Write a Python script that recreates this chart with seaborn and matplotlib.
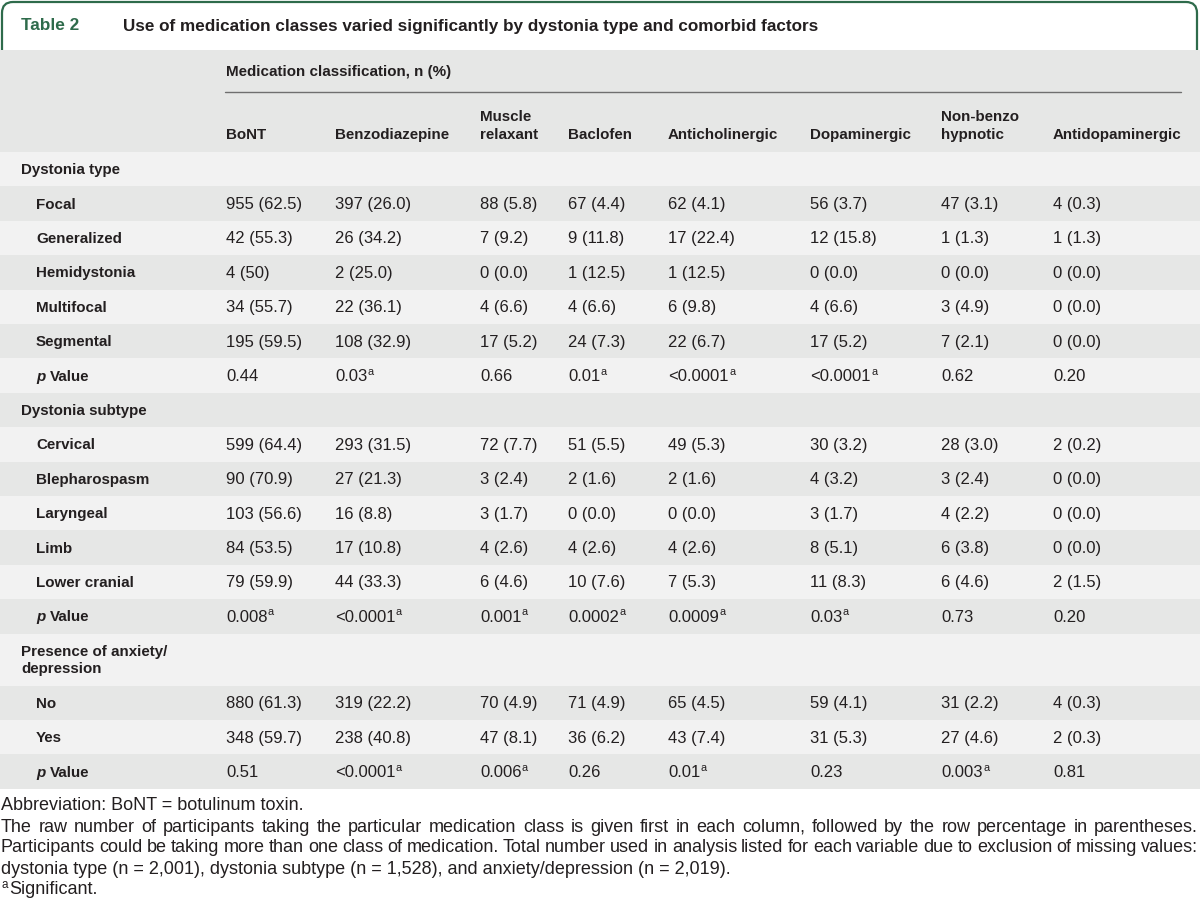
import matplotlib
matplotlib.use("Agg")
import matplotlib.pyplot as plt
import seaborn as sns
from matplotlib.patches import FancyBboxPatch

# =========================
# DATA
# =========================
table_label = "Table 2"
table_title = "Use of medication classes varied significantly by dystonia type and comorbid factors"
spanner = "Medication classification, n (%)"

medication_classes = ["BoNT", "Benzodiazepine", "Muscle\nrelaxant", "Baclofen",
                      "Anticholinergic", "Dopaminergic", "Non-benzo\nhypnotic",
                      "Antidopaminergic"]

type_labels = ["Focal", "Generalized", "Hemidystonia", "Multifocal", "Segmental"]
type_values = [
    ["955 (62.5)", "397 (26.0)", "88 (5.8)", "67 (4.4)", "62 (4.1)", "56 (3.7)", "47 (3.1)", "4 (0.3)"],
    ["42 (55.3)", "26 (34.2)", "7 (9.2)", "9 (11.8)", "17 (22.4)", "12 (15.8)", "1 (1.3)", "1 (1.3)"],
    ["4 (50)", "2 (25.0)", "0 (0.0)", "1 (12.5)", "1 (12.5)", "0 (0.0)", "0 (0.0)", "0 (0.0)"],
    ["34 (55.7)", "22 (36.1)", "4 (6.6)", "4 (6.6)", "6 (9.8)", "4 (6.6)", "3 (4.9)", "0 (0.0)"],
    ["195 (59.5)", "108 (32.9)", "17 (5.2)", "24 (7.3)", "22 (6.7)", "17 (5.2)", "7 (2.1)", "0 (0.0)"],
]
type_p = ["0.44", "0.03", "0.66", "0.01", "<0.0001", "<0.0001", "0.62", "0.20"]
type_sig = [0, 1, 0, 1, 1, 1, 0, 0]

subtype_labels = ["Cervical", "Blepharospasm", "Laryngeal", "Limb", "Lower cranial"]
subtype_values = [
    ["599 (64.4)", "293 (31.5)", "72 (7.7)", "51 (5.5)", "49 (5.3)", "30 (3.2)", "28 (3.0)", "2 (0.2)"],
    ["90 (70.9)", "27 (21.3)", "3 (2.4)", "2 (1.6)", "2 (1.6)", "4 (3.2)", "3 (2.4)", "0 (0.0)"],
    ["103 (56.6)", "16 (8.8)", "3 (1.7)", "0 (0.0)", "0 (0.0)", "3 (1.7)", "4 (2.2)", "0 (0.0)"],
    ["84 (53.5)", "17 (10.8)", "4 (2.6)", "4 (2.6)", "4 (2.6)", "8 (5.1)", "6 (3.8)", "0 (0.0)"],
    ["79 (59.9)", "44 (33.3)", "6 (4.6)", "10 (7.6)", "7 (5.3)", "11 (8.3)", "6 (4.6)", "2 (1.5)"],
]
subtype_p = ["0.008", "<0.0001", "0.001", "0.0002", "0.0009", "0.03", "0.73", "0.20"]
subtype_sig = [1, 1, 1, 1, 1, 1, 0, 0]

anxiety_labels = ["No", "Yes"]
anxiety_values = [
    ["880 (61.3)", "319 (22.2)", "70 (4.9)", "71 (4.9)", "65 (4.5)", "59 (4.1)", "31 (2.2)", "4 (0.3)"],
    ["348 (59.7)", "238 (40.8)", "47 (8.1)", "36 (6.2)", "43 (7.4)", "31 (5.3)", "27 (4.6)", "2 (0.3)"],
]
anxiety_p = ["0.51", "<0.0001", "0.006", "0.26", "0.01", "0.23", "0.003", "0.81"]
anxiety_sig = [0, 1, 1, 0, 1, 0, 1, 0]

sections = [
    ("Dystonia type", type_labels, type_values, type_p, type_sig),
    ("Dystonia subtype", subtype_labels, subtype_values, subtype_p, subtype_sig),
    ("Presence of anxiety/\ndepression", anxiety_labels, anxiety_values, anxiety_p, anxiety_sig),
]

footnotes = [
    ("Abbreviation: BoNT = botulinum toxin.", False),
    ("The raw number of participants taking the particular medication class is given first in each column, "
     "followed by the row percentage in parentheses.", True),
    ("Participants could be taking more than one class of medication. Total number used in analysis listed "
     "for each variable due to exclusion of missing values:", True),
    ("dystonia type (n = 2,001), dystonia subtype (n = 1,528), and anxiety/depression (n = 2,019).", False),
]

# =========================
# STYLE
# =========================
sns.set_theme(style="white")
plt.rcParams['font.family'] = ['Liberation Sans', 'DejaVu Sans']

GREEN = "#2e6b4b"
INK = "#231f20"
BAND_DARK = "#e6e7e6"
BAND_LIGHT = "#f2f2f2"
FS_LAB = 10.9     # bold labels
FS_VAL = 12.0     # cell values
FS_NOTE = 13.0

fig = plt.figure(figsize=(12, 9.16), dpi=100)
ax = fig.add_axes([0, 0, 1, 1])
ax.set_xlim(0, 1200)
ax.set_ylim(916, 0)
ax.axis("off")
renderer = fig.canvas.get_renderer()


def text_width(t):
    return t.get_window_extent(renderer).width


def draw_p_label(x, y):
    t = ax.text(x, y, "p", fontsize=FS_LAB, fontweight="bold", fontstyle="italic",
                color=INK, va="center", ha="left")
    ax.text(x + text_width(t) + FS_LAB * 100 / 72 * 0.3, y, "Value", fontsize=FS_LAB,
            fontweight="bold", color=INK, va="center", ha="left")


def draw_value(x, y, s, sig=False):
    t = ax.text(x, y, s, fontsize=FS_VAL, color=INK, va="center", ha="left")
    if sig:
        ax.text(x + text_width(t) + 0.5, y - 5, "a", fontsize=7.8, color=INK,
                va="center", ha="left")


# =========================
# TITLE BAND
# =========================
frame = FancyBboxPatch((2, 2), 1195, 200, boxstyle="round,pad=0,rounding_size=11",
                       facecolor="white", edgecolor=GREEN, linewidth=1.6, zorder=0)
ax.add_patch(frame)
ax.text(21, 26, table_label, fontsize=12.4, fontweight="bold", color=GREEN,
        va="center", ha="left")
ax.text(123, 26, table_title, fontsize=12.3, fontweight="bold", color=INK,
        va="center", ha="left")

# =========================
# HEADER
# =========================
col_x = [226, 335, 480, 568, 668, 810, 941, 1053]
header_top, header_bottom = 50, 152
ax.axhspan(header_top, header_bottom, color=BAND_DARK, zorder=1, lw=0)
ax.text(col_x[0], 72, spanner, fontsize=FS_LAB, fontweight="bold", color=INK,
        va="center", ha="left", zorder=3)
ax.plot([col_x[0] - 1, 1181], [92, 92], color="#6f6f6f", lw=1.0, zorder=3)
for x, name in zip(col_x, medication_classes):
    lines = name.split("\n")
    for k, line in enumerate(reversed(lines)):
        ax.text(x, 135 - 18 * k, line, fontsize=FS_LAB, fontweight="bold", color=INK,
                va="center", ha="left", zorder=3)

# =========================
# BODY
# =========================
rows = []
for group, labels, values, pvals, sig in sections:
    rows.append(("group", group, None, None))
    for lab, vals in zip(labels, values):
        rows.append(("item", lab, vals, None))
    rows.append(("p", "p Value", pvals, sig))

ROW_H = 34.4
y = header_bottom
for i, (kind, label, vals, sig) in enumerate(rows):
    n_lines = label.count("\n") + 1
    h = ROW_H if n_lines == 1 else 52
    ax.axhspan(y, y + h, color=BAND_LIGHT if i % 2 == 0 else BAND_DARK, zorder=1, lw=0)
    yc = y + h / 2 + 1
    if kind == "group":
        if n_lines == 1:
            ax.text(21, yc, label, fontsize=FS_LAB, fontweight="bold", color=INK,
                    va="center", ha="left", zorder=3)
        else:
            for k, line in enumerate(label.split("\n")):
                ax.text(21, yc - 8.5 + 17 * k, line, fontsize=FS_LAB, fontweight="bold",
                        color=INK, va="center", ha="left", zorder=3)
    elif kind == "item":
        ax.text(36, yc, label, fontsize=FS_LAB, fontweight="bold", color=INK,
                va="center", ha="left", zorder=3)
        for x, v in zip(col_x, vals):
            draw_value(x, yc, v)
    else:
        draw_p_label(36, yc)
        for x, v, s in zip(col_x, vals, sig):
            draw_value(x, yc, v, bool(s))
    y += h

# =========================
# FOOTNOTES
# =========================
note_y = 806
for line, justify in footnotes:
    if justify:
        words = line.split(" ")
        widths = []
        for w in words:
            t = ax.text(0, note_y, w, fontsize=FS_NOTE, color=INK, va="center", ha="left")
            widths.append(text_width(t))
            t.remove()
        gap = (1198 - 1 - sum(widths)) / (len(words) - 1)
        x = 1
        for w, wd in zip(words, widths):
            ax.text(x, note_y, w, fontsize=FS_NOTE, color=INK, va="center", ha="left")
            x += wd + gap
    else:
        ax.text(1, note_y, line, fontsize=FS_NOTE, color=INK, va="center", ha="left")
    note_y += 21

ax.text(1, note_y - 5, "a", fontsize=8.4, color=INK, va="center", ha="left")
ax.text(9, note_y, "Significant.", fontsize=FS_NOTE, color=INK, va="center", ha="left")

fig.savefig("out.png", dpi=100)
